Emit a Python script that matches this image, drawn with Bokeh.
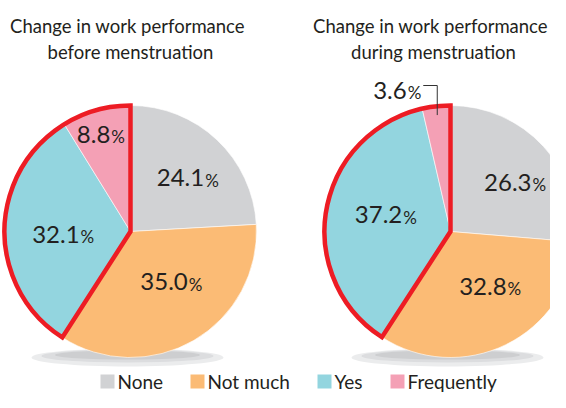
import math
from bokeh.plotting import figure
from bokeh.models import Range1d
from bokeh.core.properties import value
from bokeh.embed import file_html
from bokeh.resources import INLINE

# ---- data ----
categories = ["None", "Not much", "Yes", "Frequently"]
before_vals = [24.1, 35.0, 32.1, 8.8]
during_vals = [26.3, 32.8, 37.2, 3.6]
titles_before = ["Change in work performance", "before menstruation"]
titles_during = ["Change in work performance", "during menstruation"]

# ---- styles / layout ----
colors = ["#d1d2d4", "#fbbb75", "#93d5df", "#f4a0b5"]
RED = "#ed1c24"
TXT = "#231f20"
FONT = "Lato"
R = 126
centers = [(130, -231), (450, -231)]
title_dx = [0, -17]
label_r = [[0.62, 0.51, 0.54, 0.81], [0.64, 0.535, 0.535, None]]
label_nudge = [[3, -8.5, -2.8, -1.4], [5, -9.2, 4.3, 0]]
legend_x = [100, 190, 317, 390]

p = figure(width=550, height=392, x_range=Range1d(0, 550), y_range=Range1d(-392, 0),
           output_backend="svg", toolbar_location=None, min_border=0,
           x_axis_type=None, y_axis_type=None)
p.grid.visible = False
p.outline_line_color = None
p.background_fill_color = "white"
p.border_fill_color = "white"

NUM_FS, PCT_FS, TITLE_FS, LEG_FS = 24, 17, 18.5, 19


def num_width(s):
    return sum(0.25 * NUM_FS if c == "." else 0.58 * NUM_FS for c in s)


def put_label(s, split, yc):
    p.text(x=[split], y=[yc], text=[s], text_align="right", text_baseline="middle",
           text_font=value(FONT), text_font_size=f"{NUM_FS}px", text_color=TXT)
    p.text(x=[split + 1], y=[yc - 0.35 * (NUM_FS - PCT_FS)], text=["%"], text_align="left",
           text_baseline="middle", text_font=value(FONT), text_font_size=f"{PCT_FS}px",
           text_color=TXT)


def pie(vals, center, radii, nudges, titles, tdx):
    cx, cy = center
    total = sum(vals)
    # soft shadow under the pie
    p.ellipse(x=[cx - 3], y=[cy - 126], width=[192], height=[18], fill_color="#ebeced", line_color=None)
    p.ellipse(x=[cx - 3], y=[cy - 124.5], width=[172], height=[13], fill_color="#dcdddf", line_color=None)
    p.ellipse(x=[cx - 3], y=[cy - 123.5], width=[145], height=[9], fill_color="#cdced0", line_color=None)
    cum = 0.0
    starts, ends, mids = [], [], []
    for v in vals:
        a = cum / total
        b = (cum + v) / total
        starts.append(math.pi / 2 - 2 * math.pi * b)
        ends.append(math.pi / 2 - 2 * math.pi * a)
        mids.append((a + b) / 2)
        cum += v
    p.wedge(x=cx, y=cy, radius=R, start_angle=starts, end_angle=ends,
            fill_color=colors, line_color="white", line_width=0.6)
    # red outline around Yes + Frequently
    p.wedge(x=[cx], y=[cy], radius=R, start_angle=[starts[3]], end_angle=[ends[2]],
            fill_color=None, line_color=RED, line_width=4.5, line_join="miter")
    # labels
    for v, m, f, nd in zip(vals, mids, radii, nudges):
        th = math.pi / 2 - 2 * math.pi * m - math.radians(nd)
        s = f"{v:.1f}"
        wn = num_width(s)
        wp = 0.8 * PCT_FS
        if f is not None:
            lx = cx + f * R * math.cos(th)
            ly = cy + f * R * math.sin(th)
            put_label(s, lx + (wn - wp) / 2, ly)
        else:
            xl = cx + 0.93 * R * math.cos(th)
            yl = cy + 0.93 * R * math.sin(th)
            ytop = cy + R + 20
            p.line(x=[xl, xl, xl - 14], y=[yl, ytop, ytop], line_color="#333333", line_width=1)
            put_label(s, xl - 17 - wp, ytop - 4.5)
    # titles
    for i, t in enumerate(titles):
        p.text(x=[cx - 3 + 3 * i + tdx], y=[-25 - 26 * i], text=[t], text_align="center",
               text_baseline="middle", text_font=value(FONT), text_font_size=f"{TITLE_FS}px",
               text_color=TXT)


pie(before_vals, centers[0], label_r[0], label_nudge[0], titles_before, title_dx[0])
pie(during_vals, centers[1], label_r[1], label_nudge[1], titles_during, title_dx[1])

# legend
for lx, c, name in zip(legend_x, colors, categories):
    p.quad(left=[lx], right=[lx + 14], bottom=[-388], top=[-374], fill_color=c, line_color=None)
    p.text(x=[lx + 17], y=[-381], text=[name], text_align="left", text_baseline="middle",
           text_font=value(FONT), text_font_size=f"{LEG_FS}px", text_color=TXT)

open("out.html", "w").write(file_html(p, INLINE))
